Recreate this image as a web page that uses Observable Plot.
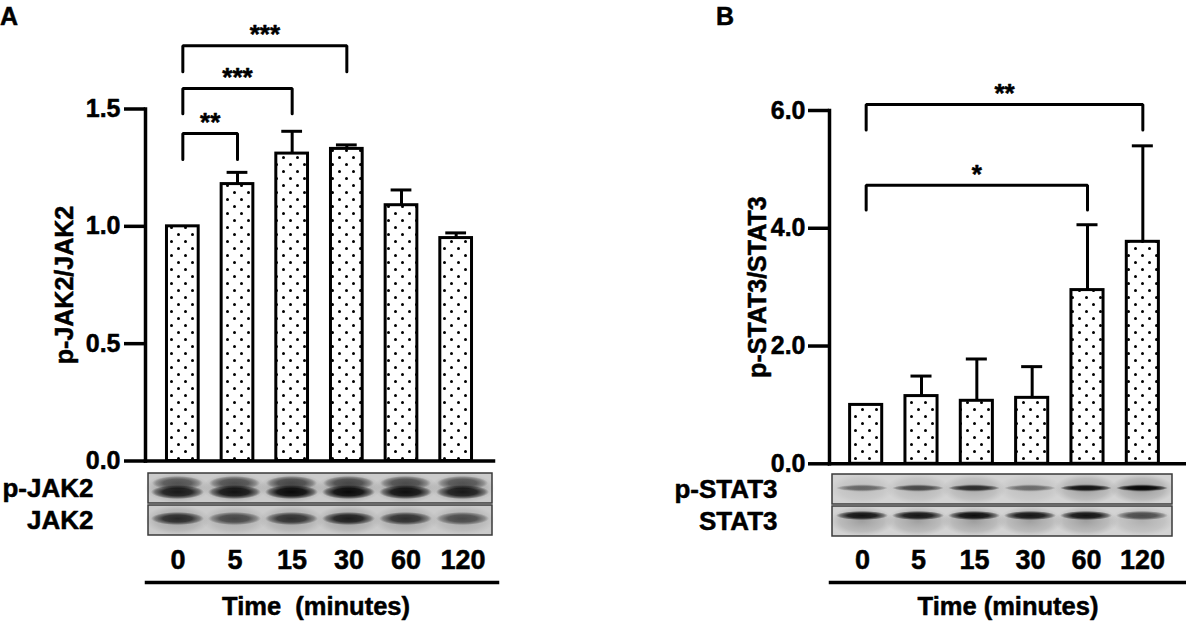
<!DOCTYPE html>
<html><head><meta charset="utf-8">
<script src="https://cdn.jsdelivr.net/npm/d3@7"></script>
<script src="https://cdn.jsdelivr.net/npm/@observablehq/plot@0.6"></script>
<style>
html,body{margin:0;padding:0;background:#fff;}
#fig{position:relative;width:1186px;height:622px;overflow:hidden;background:#fff;font-family:'Liberation Sans',Arial,sans-serif;}
#fig svg{position:absolute;top:0;overflow:visible;}
#fig svg text{stroke:#000;stroke-width:0.5px;stroke-linejoin:round;}
.letter{position:absolute;top:4px;font-size:25px;font-weight:bold;line-height:25px;color:#000;-webkit-text-stroke:0.5px #000;}
</style></head><body>
<svg width="0" height="0" style="position:absolute;left:0;top:0">
<defs>
<pattern id="dots" patternUnits="userSpaceOnUse" width="14" height="14">
<rect width="14" height="14" fill="#fff"/>
<circle cx="3.5" cy="3.5" r="1.5" fill="#000"/>
<circle cx="10.5" cy="10.5" r="1.5" fill="#000"/>
</pattern>
<radialGradient id="band" cx="0.5" cy="0.5" r="0.5">
<stop offset="0" stop-color="#050505" stop-opacity="1"/>
<stop offset="0.55" stop-color="#0a0a0a" stop-opacity="0.92"/>
<stop offset="0.85" stop-color="#151515" stop-opacity="0.45"/>
<stop offset="1" stop-color="#202020" stop-opacity="0"/>
</radialGradient>
<radialGradient id="halo" cx="0.5" cy="0.5" r="0.5">
<stop offset="0" stop-color="#303030" stop-opacity="0.35"/>
<stop offset="0.7" stop-color="#404040" stop-opacity="0.18"/>
<stop offset="1" stop-color="#505050" stop-opacity="0"/>
</radialGradient>
</defs></svg>
<div id="fig">
<div class="letter" style="left:0px">A</div>
<div class="letter" style="left:716px">B</div>
</div>
<script>
// ---------- data ----------
const times = ["0", "5", "15", "30", "60", "120"];

const jakMean = [1.00, 1.18, 1.31, 1.33, 1.09, 0.95];
const jakErr  = [0, 0.05, 0.095, 0.017, 0.065, 0.022];
const jakTicks = [0, 0.5, 1.0, 1.5];
const jakBrackets = [
  {from: 0, to: 1, y: 1.396, leg: 1.285, label: "**"},
  {from: 0, to: 2, y: 1.587, leg: 1.480, label: "***"},
  {from: 0, to: 3, y: 1.770, leg: 1.659, label: "***"}
];

const statMean = [1.00, 1.15, 1.07, 1.12, 2.95, 3.77];
const statErr  = [0, 0.34, 0.71, 0.53, 1.11, 1.63];
const statTicks = [0, 2, 4, 6];
const statBrackets = [
  {from: 0, to: 4, y: 4.73, leg: 4.31, label: "*"},
  {from: 0, to: 5, y: 6.10, leg: 5.67, label: "**"}
];

// western blot band intensities (estimated densities, 0..1)
const blotRowsA = ["p-JAK2", "JAK2"];
const pJakBand = [0.88, 0.92, 0.98, 0.98, 0.94, 0.88];
const jakBand  = [0.78, 0.62, 0.74, 0.85, 0.75, 0.6];
const blotRowsB = ["p-STAT3", "STAT3"];
const pStatBand = [0.4, 0.55, 0.72, 0.38, 0.9, 1.0];
const statBand  = [0.92, 0.9, 0.95, 0.9, 0.92, 0.62];

const xLabelA = "Time\u00A0\u00A0(minutes)";
const xLabelB = "Time (minutes)";

// ---------- drawing ----------
const FONT = "'Liberation Sans', Arial, sans-serif";
const HW = 0.29;   // half bar width (in category units)
const CAP = 0.19;  // half error-cap width

function barPanel(o) {
  const rows = times.map((t, i) => ({i, t, mean: o.mean[i], err: o.err[i]}));
  const withErr = rows.filter(d => d.err > 0);
  const pts = o.brackets.flatMap((b, k) => [
    {k, x: b.from, y: b.leg}, {k, x: b.from, y: b.y},
    {k, x: b.to, y: b.y}, {k, x: b.to, y: b.leg}
  ]);
  return Plot.plot({
    width: o.width, height: o.height,
    marginLeft: o.marginLeft, marginRight: o.marginRight,
    marginTop: o.marginTop, marginBottom: o.marginBottom,
    style: {fontFamily: FONT, fontWeight: "bold", overflow: "visible", background: "transparent", color: "#000"},
    x: {domain: [-0.5, times.length - 0.5], insetLeft: o.insetLeft, insetRight: o.insetRight, axis: null},
    y: {domain: o.ydomain, axis: null},
    marks: [
      Plot.rectY(rows, {x1: d => d.i - HW, x2: d => d.i + HW, y1: 0, y2: "mean",
        fill: "url(#dots)", stroke: "#000", strokeWidth: 3}),
      Plot.ruleX(withErr, {x: "i", y1: "mean", y2: d => d.mean + d.err, stroke: "#000", strokeWidth: 3}),
      Plot.ruleY(withErr, {y: d => d.mean + d.err, x1: d => d.i - CAP, x2: d => d.i + CAP, stroke: "#000", strokeWidth: 3}),
      Plot.line(pts, {x: "x", y: "y", z: "k", stroke: "#000", strokeWidth: 3, strokeLinejoin: "miter"}),
      Plot.text(o.brackets, {x: d => (d.from + d.to) / 2, y: "y", text: "label", dy: -11,
        lineAnchor: "middle", fontSize: 26, fontWeight: "bold", fill: "#000"}),
      Plot.frame({anchor: "left", stroke: "#000", strokeWidth: 3.5, strokeLinecap: "square"}),
      Plot.frame({anchor: "bottom", stroke: "#000", strokeWidth: 3.5, strokeLinecap: "square"}),
      Plot.axisY({ticks: o.ticks, tickFormat: d3.format(".1f"), tickSize: 21, tickPadding: o.tickPadding,
        stroke: "#000", strokeWidth: 3.5, fontSize: 25, fontWeight: "bold",
        label: o.label, labelAnchor: "center", labelOffset: o.labelOffset, labelArrow: "none"})
    ]
  });
}

function blotPanel(o) {
  const mk = (row, vals) => times.map((t, i) => ({row, lane: t, v: vals[i]}));
  const r0 = mk(o.rows[0], o.bands[0]);
  const r1 = mk(o.rows[1], o.bands[1]);
  const all = r0.concat(r1);
  return Plot.plot({
    width: o.width, height: 622,
    marginLeft: o.marginLeft, marginRight: o.marginRight, marginTop: 0, marginBottom: 40,
    style: {fontFamily: FONT, fontWeight: "bold", overflow: "visible", background: "transparent", color: "#000"},
    x: {type: "band", domain: times, padding: 0, insetLeft: o.insetLeft, insetRight: o.insetRight, axis: null},
    y: {type: "band", domain: o.rows, range: o.yrange, paddingInner: 0.06, paddingOuter: 0, axis: null},
    marks: [
      Plot.cell(o.rows, {y: d => d, fill: o.bg, insetLeft: o.insetLeft, insetRight: o.insetRight}),
      Plot.cell(all, {x: "lane", y: "row", fill: "url(#halo)", fillOpacity: "v", insetLeft: -4, insetRight: -4}),
      Plot.cell(r0, {x: "lane", y: "row", fill: "url(#band)", fillOpacity: d => d.v * o.hazeOpacity,
        insetLeft: 3, insetRight: 3, insetTop: o.haze[0], insetBottom: o.haze[1]}),
      Plot.cell(r0, {x: "lane", y: "row", fill: "url(#band)", fillOpacity: "v",
        insetLeft: 2, insetRight: 2, insetTop: o.in0[0], insetBottom: o.in0[1]}),
      Plot.cell(r1, {x: "lane", y: "row", fill: "url(#band)", fillOpacity: "v",
        insetLeft: 2, insetRight: 2, insetTop: o.in1[0], insetBottom: o.in1[1]}),
      Plot.cell(o.rows, {y: d => d, fill: "none", stroke: "#3a3a3a", strokeWidth: 1.5,
        insetLeft: o.insetLeft, insetRight: o.insetRight}),
      Plot.axisY({tickSize: 0, tickPadding: 53, fontSize: 26, fontWeight: "bold", label: null}),
      Plot.text(times, {x: d => d, text: d => d, frameAnchor: "bottom", lineAnchor: "middle", dy: -22,
        fontSize: 27, fontWeight: "bold", fill: "#000"}),
      Plot.frame({anchor: "bottom", stroke: "#000", strokeWidth: 3.5}),
      Plot.text([o.xlabel], {text: d => d, frameAnchor: "bottom", lineAnchor: "middle", dy: 24, dx: o.labelDx,
        fontSize: 25.5, fontWeight: "bold", fill: "#000"})
    ]
  });
}

const fig = document.getElementById("fig");
function place(svg, left) { svg.style.left = left + "px"; fig.appendChild(svg); }

place(barPanel({
  width: 593, height: 470, marginLeft: 145, marginRight: 100, marginTop: 108.5, marginBottom: 9.5,
  insetLeft: 10, insetRight: 10, ydomain: [0, 1.5], ticks: jakTicks, tickPadding: 4,
  label: "p-JAK2/JAK2", labelOffset: 90, mean: jakMean, err: jakErr, brackets: jakBrackets
}), 0);

place(blotPanel({
  width: 593, marginLeft: 146, marginRight: 96, insetLeft: 2, insetRight: 5, yrange: [472, 536],
  rows: blotRowsA, bands: [pJakBand, jakBand], bg: "#cbcbcb",
  haze: [3, 13], hazeOpacity: 0.6, in0: [12, 4], in1: [7, 10],
  xlabel: xLabelA, labelDx: -6
}), 0);

place(barPanel({
  width: 593, height: 472, marginLeft: 236, marginRight: 1, marginTop: 110, marginBottom: 8.7,
  insetLeft: 9, insetRight: 15, ydomain: [0, 6], ticks: statTicks, tickPadding: 3,
  label: "p-STAT3/STAT3", labelOffset: 81, mean: statMean, err: statErr, brackets: statBrackets
}), 593);

place(blotPanel({
  width: 593, marginLeft: 237, marginRight: 1, insetLeft: 2, insetRight: 13, yrange: [473, 537],
  rows: blotRowsB, bands: [pStatBand, statBand], bg: "#d3d3d3",
  haze: [10, 12], hazeOpacity: 0.35, in0: [11, 13], in1: [5, 16],
  xlabel: xLabelB, labelDx: 0
}), 593);
</script>
</body></html>
